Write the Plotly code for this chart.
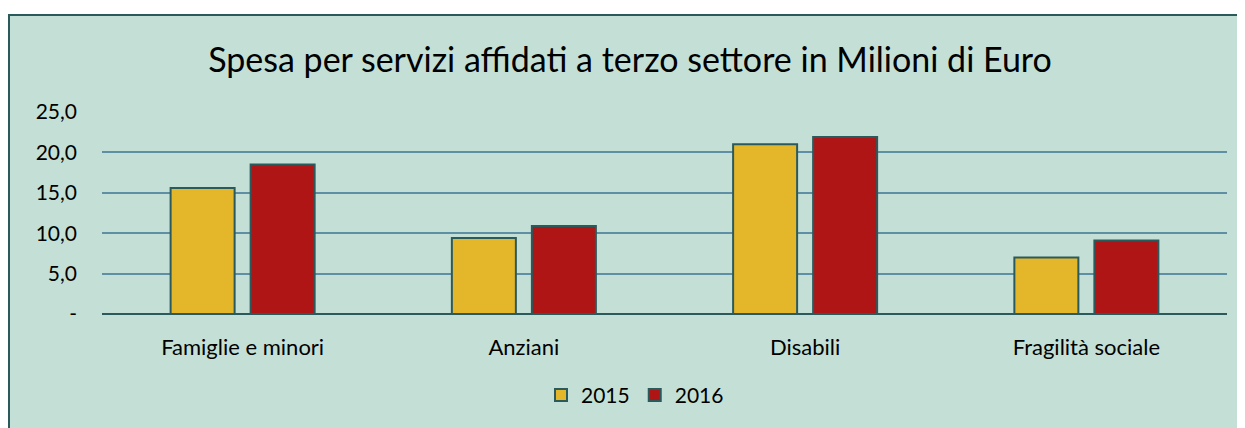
import plotly.graph_objects as go

categories = ["Famiglie e minori", "Anziani", "Disabili", "Fragilità sociale"]
series_names = ["2015", "2016"]
values_2015 = [15.6, 9.4, 21.0, 7.0]
values_2016 = [18.5, 10.9, 21.9, 9.1]
tick_vals = [0, 5, 10, 15, 20, 25]
tick_text = ["-", "5,0", "10,0", "15,0", "20,0", "25,0"]

colors = ["#E4B72A", "#B01515"]
outline = "#2B5A5C"
bg = "#C4E0D6"
FONT = "Lato"

# page body has 8px margin; figure sized to fill the rest of the window
W, H = 1237, 420
ml, mr, mt, mb = 94, 18, 104, 110
pw = W - ml - mr
ph = H - mt - mb

fig = go.Figure()
for name, vals, c in zip(series_names, [values_2015, values_2016], colors):
    fig.add_trace(go.Bar(
        x=categories, y=vals, name=name,
        marker=dict(color=c, line=dict(color=outline, width=2)),
    ))

# frame rectangle (paper coords relative to plot area)
x0 = (1 - ml) / pw
y1 = (H - mb - 5) / ph
fig.add_shape(type="rect", xref="paper", yref="paper",
              x0=x0, x1=1.2, y0=-1.0, y1=y1,
              fillcolor=bg, line=dict(color=outline, width=2), layer="below")

fig.update_layout(
    width=W, height=H,
    margin=dict(l=ml, r=mr, t=mt, b=mb),
    paper_bgcolor="white",
    plot_bgcolor="rgba(0,0,0,0)",
    barmode="group",
    bargap=0.431,
    bargroupgap=0.2,
    title=dict(text="Spesa per servizi affidati a terzo settore in Milioni di Euro",
               x=622 / W, xanchor="center",
               y=1 - 52 / H, yanchor="middle",
               font=dict(family=FONT, size=34, color="#000000")),
    font=dict(family=FONT, size=21, color="#000000"),
    showlegend=True,
    legend=dict(orientation="h", x=(627 - ml) / pw, xanchor="center",
                y=-(393 - (H - mb)) / ph, yanchor="middle",
                font=dict(family=FONT, size=21, color="#000000"),
                bgcolor="rgba(0,0,0,0)", traceorder="normal",
                itemwidth=30),
    xaxis=dict(showgrid=False, showline=False, ticks="",
               tickfont=dict(family=FONT, size=22, color="#000000"),
               ticklabelstandoff=18),
    yaxis=dict(range=[0, 25], tickvals=tick_vals, ticktext=tick_text,
               showgrid=True, gridcolor="#5E8FA5", gridwidth=1.5,
               zeroline=True, zerolinecolor=outline, zerolinewidth=2,
               showline=False, ticks="",
               tickfont=dict(family=FONT, size=21, color="#000000"),
               ticklabelstandoff=24),
)

fig.write_html("out.html")
